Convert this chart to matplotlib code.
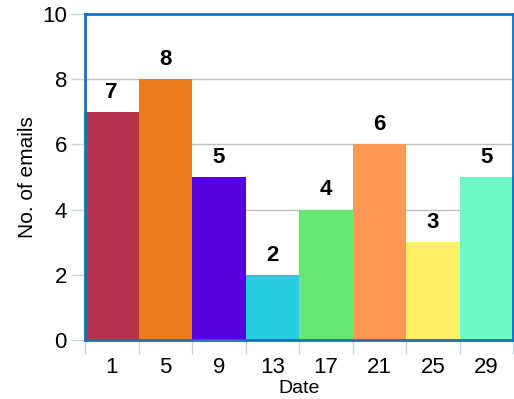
import matplotlib
matplotlib.use("Agg")
import matplotlib.pyplot as plt
import numpy as np

dates = ["1", "5", "9", "13", "17", "21", "25", "29"]
emails = [7, 8, 5, 2, 4, 6, 3, 5]
colors = ["#B5334F", "#EC7A1F", "#5500DD", "#28CCE3",
          "#66E673", "#FF9757", "#FFF064", "#6CF9C5"]

plt.rcParams["font.family"] = ["Liberation Sans", "DejaVu Sans"]

fig = plt.figure(figsize=(5.14, 3.99), dpi=100)
ax = fig.add_axes([85 / 514, 1 - 340 / 399, 428 / 514, 326 / 399])

x = np.arange(len(dates))
bars = ax.bar(x, emails, width=1.0, color=colors, zorder=2)
for b, v in zip(bars, emails):
    ax.text(b.get_x() + b.get_width() / 2, v + 0.28, str(v),
            ha="center", va="bottom", fontsize=16, fontweight="bold", zorder=3)

ax.set_xlim(-0.5, len(dates) - 0.5)
ax.set_ylim(0, 10)
ax.set_yticks(range(0, 11, 2))
ax.yaxis.grid(True, color="#C0C0C0", linewidth=1, zorder=1)

ax.set_xticks(x)
ax.set_xticklabels(dates)
ax.set_xticks(np.arange(-0.5, len(dates)), minor=True)
ax.tick_params(axis="x", which="major", length=0, labelsize=16, pad=12)
ax.tick_params(axis="x", which="minor", length=10, color="#C8D4E0", width=1)
ax.tick_params(axis="y", length=10, color="#C8D4E0", width=1, labelsize=16, pad=3)

for s in ax.spines.values():
    s.set_color("#1472C4")
    s.set_linewidth(2)
    s.set_zorder(4)

ax.set_xlabel("Date", fontsize=14, labelpad=2)
ax.set_ylabel("No. of emails", fontsize=15, labelpad=4)

fig.savefig("out.png", dpi=100)
